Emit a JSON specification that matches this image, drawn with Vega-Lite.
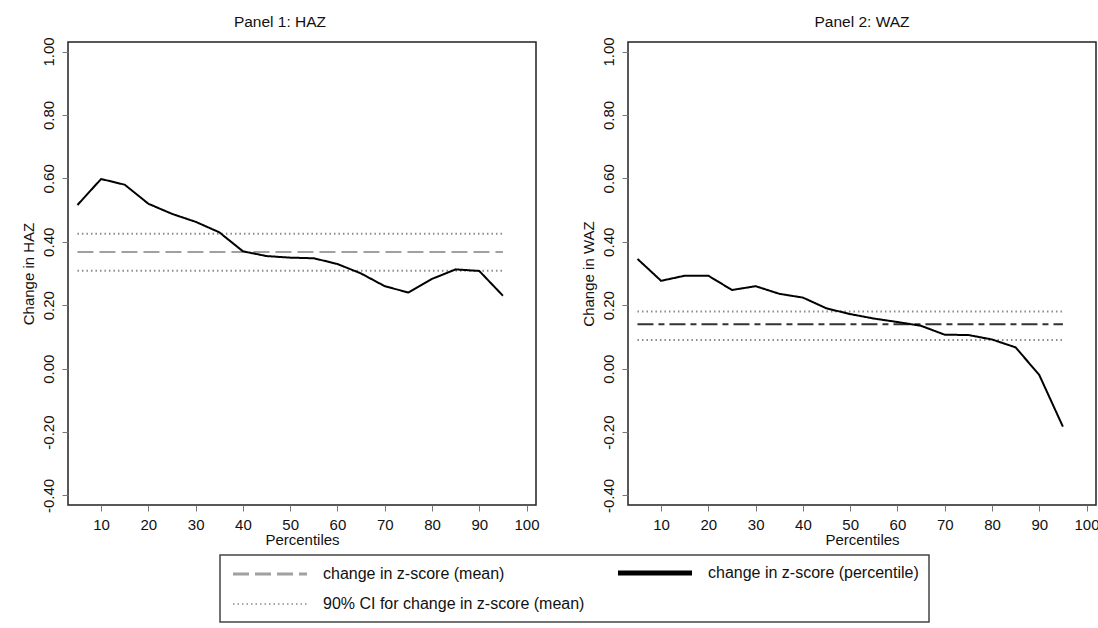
{
  "$schema": "https://vega.github.io/schema/vega-lite/v6.json",
  "background": "white",
  "padding": {"left": 20, "top": 14, "right": 0, "bottom": 0},
  "datasets": {
    "pct": [
      {"panel": "HAZ", "series": "change in z-score (percentile)", "p": 5, "v": 0.516},
      {"panel": "HAZ", "series": "change in z-score (percentile)", "p": 10, "v": 0.598},
      {"panel": "HAZ", "series": "change in z-score (percentile)", "p": 15, "v": 0.58},
      {"panel": "HAZ", "series": "change in z-score (percentile)", "p": 20, "v": 0.52},
      {"panel": "HAZ", "series": "change in z-score (percentile)", "p": 25, "v": 0.488},
      {"panel": "HAZ", "series": "change in z-score (percentile)", "p": 30, "v": 0.463},
      {"panel": "HAZ", "series": "change in z-score (percentile)", "p": 35, "v": 0.43},
      {"panel": "HAZ", "series": "change in z-score (percentile)", "p": 40, "v": 0.37},
      {"panel": "HAZ", "series": "change in z-score (percentile)", "p": 45, "v": 0.355},
      {"panel": "HAZ", "series": "change in z-score (percentile)", "p": 50, "v": 0.35},
      {"panel": "HAZ", "series": "change in z-score (percentile)", "p": 55, "v": 0.348},
      {"panel": "HAZ", "series": "change in z-score (percentile)", "p": 60, "v": 0.33},
      {"panel": "HAZ", "series": "change in z-score (percentile)", "p": 65, "v": 0.3},
      {"panel": "HAZ", "series": "change in z-score (percentile)", "p": 70, "v": 0.26},
      {"panel": "HAZ", "series": "change in z-score (percentile)", "p": 75, "v": 0.24},
      {"panel": "HAZ", "series": "change in z-score (percentile)", "p": 80, "v": 0.283},
      {"panel": "HAZ", "series": "change in z-score (percentile)", "p": 85, "v": 0.313},
      {"panel": "HAZ", "series": "change in z-score (percentile)", "p": 90, "v": 0.308},
      {"panel": "HAZ", "series": "change in z-score (percentile)", "p": 95, "v": 0.23},
      {"panel": "WAZ", "series": "change in z-score (percentile)", "p": 5, "v": 0.346},
      {"panel": "WAZ", "series": "change in z-score (percentile)", "p": 10, "v": 0.277},
      {"panel": "WAZ", "series": "change in z-score (percentile)", "p": 15, "v": 0.293},
      {"panel": "WAZ", "series": "change in z-score (percentile)", "p": 20, "v": 0.293},
      {"panel": "WAZ", "series": "change in z-score (percentile)", "p": 25, "v": 0.248},
      {"panel": "WAZ", "series": "change in z-score (percentile)", "p": 30, "v": 0.26},
      {"panel": "WAZ", "series": "change in z-score (percentile)", "p": 35, "v": 0.236},
      {"panel": "WAZ", "series": "change in z-score (percentile)", "p": 40, "v": 0.224},
      {"panel": "WAZ", "series": "change in z-score (percentile)", "p": 45, "v": 0.19},
      {"panel": "WAZ", "series": "change in z-score (percentile)", "p": 50, "v": 0.172},
      {"panel": "WAZ", "series": "change in z-score (percentile)", "p": 55, "v": 0.158},
      {"panel": "WAZ", "series": "change in z-score (percentile)", "p": 60, "v": 0.147},
      {"panel": "WAZ", "series": "change in z-score (percentile)", "p": 65, "v": 0.135},
      {"panel": "WAZ", "series": "change in z-score (percentile)", "p": 70, "v": 0.107},
      {"panel": "WAZ", "series": "change in z-score (percentile)", "p": 75, "v": 0.106},
      {"panel": "WAZ", "series": "change in z-score (percentile)", "p": 80, "v": 0.092},
      {"panel": "WAZ", "series": "change in z-score (percentile)", "p": 85, "v": 0.067},
      {"panel": "WAZ", "series": "change in z-score (percentile)", "p": 90, "v": -0.02},
      {"panel": "WAZ", "series": "change in z-score (percentile)", "p": 95, "v": -0.183}
    ],
    "ref": [
      {"panel": "HAZ", "series": "change in z-score (mean)", "x": 5, "x2": 95, "v": 0.368},
      {"panel": "HAZ", "series": "90% CI for change in z-score (mean)", "x": 5, "x2": 95, "v": 0.425},
      {"panel": "HAZ", "series": "90% CI for change in z-score (mean)", "x": 5, "x2": 95, "v": 0.309},
      {"panel": "WAZ", "series": "change in z-score (mean)", "x": 5, "x2": 95, "v": 0.14},
      {"panel": "WAZ", "series": "90% CI for change in z-score (mean)", "x": 5, "x2": 95, "v": 0.18},
      {"panel": "WAZ", "series": "90% CI for change in z-score (mean)", "x": 5, "x2": 95, "v": 0.09}
    ]
  },
  "spacing": 40,
  "hconcat": [
    {
      "width": 468,
      "height": 463,
      "title": {"text": "Panel 1: HAZ", "dx": -22},
      "layer": [
        {
          "data": {"name": "ref"},
          "transform": [{"filter": "datum.panel === 'HAZ'"}],
          "mark": {"type": "rule", "strokeWidth": 2},
          "encoding": {
            "x": {"field": "x", "type": "quantitative", "scale": {"domain": [3, 102], "nice": false, "zero": false},
                  "axis": {"values": [10, 20, 30, 40, 50, 60, 70, 80, 90, 100], "title": "Percentiles"}},
            "x2": {"field": "x2"},
            "y": {"field": "v", "type": "quantitative", "scale": {"domain": [-0.43, 1.03], "nice": false, "zero": false},
                  "axis": {"values": [-0.4, -0.2, 0, 0.2, 0.4, 0.6, 0.8, 1.0], "labelExpr": "replace(format(datum.value, '.2f'), '\u2212', '-')", "title": "Change in HAZ"}},
            "color": {"field": "series", "type": "nominal",
                      "scale": {"domain": ["change in z-score (mean)", "change in z-score (percentile)", "90% CI for change in z-score (mean)"],
                                "range": ["#a0a0a0", "#000000", "#8a8a8a"]},
                      "legend": {"title": null,
                                 "encode": {"symbols": {"update": {
                                   "size": {"value": 5476},
                                   "strokeWidth": {"signal": "datum.value === 'change in z-score (percentile)' ? 5 : (datum.value === '90% CI for change in z-score (mean)' ? 1.5 : 3)"}
                                 }}}}},
            "strokeDash": {"field": "series", "type": "nominal",
                           "scale": {"domain": ["change in z-score (mean)", "change in z-score (percentile)", "90% CI for change in z-score (mean)"],
                                     "range": [[16, 6], [1, 0], [1.5, 3]]},
                           "legend": {"title": null}}
          }
        },
        {
          "data": {"name": "pct"},
          "transform": [{"filter": "datum.panel === 'HAZ'"}],
          "mark": {"type": "line", "strokeWidth": 2},
          "encoding": {
            "x": {"field": "p", "type": "quantitative"},
            "y": {"field": "v", "type": "quantitative"},
            "color": {"field": "series", "type": "nominal"},
            "strokeDash": {"field": "series", "type": "nominal"}
          }
        }
      ]
    },
    {
      "width": 468,
      "height": 463,
      "title": {"text": "Panel 2: WAZ"},
      "layer": [
        {
          "data": {"name": "ref"},
          "transform": [{"filter": "datum.panel === 'WAZ' && datum.series !== 'change in z-score (mean)'"}],
          "mark": {"type": "rule", "strokeWidth": 2},
          "encoding": {
            "x": {"field": "x", "type": "quantitative", "scale": {"domain": [3, 102], "nice": false, "zero": false},
                  "axis": {"values": [10, 20, 30, 40, 50, 60, 70, 80, 90, 100], "title": "Percentiles"}},
            "x2": {"field": "x2"},
            "y": {"field": "v", "type": "quantitative", "scale": {"domain": [-0.43, 1.03], "nice": false, "zero": false},
                  "axis": {"values": [-0.4, -0.2, 0, 0.2, 0.4, 0.6, 0.8, 1.0], "labelExpr": "replace(format(datum.value, '.2f'), '\u2212', '-')", "title": "Change in WAZ"}},
            "color": {"field": "series", "type": "nominal"},
            "strokeDash": {"field": "series", "type": "nominal"}
          }
        },
        {
          "data": {"name": "ref"},
          "transform": [{"filter": "datum.panel === 'WAZ' && datum.series === 'change in z-score (mean)'"}],
          "mark": {"type": "rule", "strokeWidth": 2, "color": "#333333", "strokeDash": [16, 5, 6, 5]},
          "encoding": {
            "x": {"field": "x", "type": "quantitative"},
            "x2": {"field": "x2"},
            "y": {"field": "v", "type": "quantitative"}
          }
        },
        {
          "data": {"name": "pct"},
          "transform": [{"filter": "datum.panel === 'WAZ'"}],
          "mark": {"type": "line", "strokeWidth": 2},
          "encoding": {
            "x": {"field": "p", "type": "quantitative"},
            "y": {"field": "v", "type": "quantitative"},
            "color": {"field": "series", "type": "nominal"},
            "strokeDash": {"field": "series", "type": "nominal"}
          }
        }
      ]
    }
  ],
  "config": {
    "font": "Liberation Sans",
    "view": {"stroke": "#222222", "strokeWidth": 1.5},
    "axis": {
      "domain": false, "grid": false, "ticks": true, "tickColor": "#777777", "tickSize": 6, "tickWidth": 1,
      "labelFontSize": 15, "labelColor": "#111111", "titleFontSize": 15, "titleFontWeight": "normal", "titleColor": "#111111"
    },
    "axisX": {"labelPadding": 6, "titlePadding": 0, "labelFlush": false},
    "axisY": {"labelAngle": -90, "labelAlign": "center", "labelBaseline": "bottom", "labelPadding": 6, "titlePadding": 5},
    "title": {"fontSize": 15.5, "fontWeight": "normal", "color": "#111111", "offset": 6, "anchor": "middle", "frame": "group"},
    "legend": {
      "orient": "none", "legendX": 152, "legendY": 513, "direction": "horizontal",
      "columns": 2, "columnPadding": 23, "rowPadding": 13,
      "padding": 10, "strokeColor": "#444444", "fillColor": "white", "strokeWidth": 1.5,
      "symbolType": "stroke", "symbolSize": 100, "symbolOffset": 32, "symbolStrokeWidth": 3,
      "labelFontSize": 16, "labelColor": "#111111", "labelOffset": 45, "labelLimit": 400
    }
  }
}
